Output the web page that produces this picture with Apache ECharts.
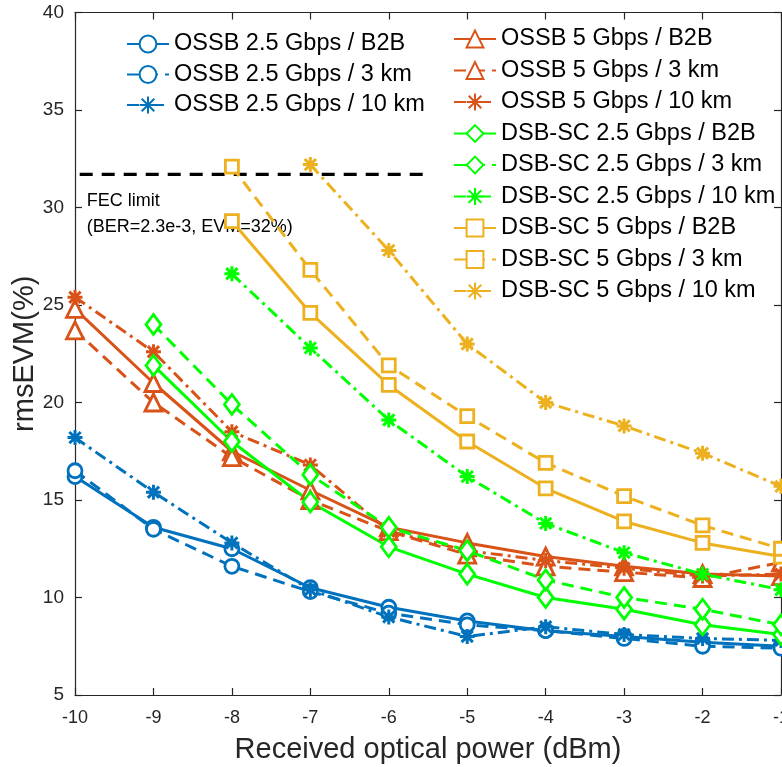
<!DOCTYPE html>
<html>
<head>
<meta charset="utf-8">
<script src="https://cdn.jsdelivr.net/npm/echarts@6/dist/echarts.min.js"></script>
<style>
html,body{margin:0;padding:0;background:#fff;}
#chart{width:782px;height:767px;}
</style>
</head>
<body>
<div id="chart"></div>
<script>
// ---- data ----
var powers = [-10, -9, -8, -7, -6, -5, -4, -3, -2, -1];
var xTicks = [-10, -9, -8, -7, -6, -5, -4, -3, -2, -1];
var yTicks = [5, 10, 15, 20, 25, 30, 35, 40];

var ossb25_b2b  = [16.2, 13.6, 12.5, 10.5, 9.5, 8.8, 8.3, 8.0, 7.7, 7.5];
var ossb25_3km  = [16.5, 13.5, 11.6, 10.3, 9.2, 8.6, 8.3, 7.9, 7.5, 7.4];
var ossb25_10km = [18.2, 15.4, 12.8, 10.4, 9.0, 8.0, 8.5, 8.1, 7.9, 7.8];

var ossb5_b2b  = [24.8, 21.0, 17.5, 15.5, 13.6, 12.8, 12.1, 11.6, 11.2, 11.1];
var ossb5_3km  = [23.7, 20.0, 17.2, 15.0, 13.4, 12.2, 11.6, 11.3, 11.0, 11.8];
var ossb5_10km = [25.4, 22.6, 18.5, 16.8, 13.4, 12.4, 11.9, 11.5, 11.1, 11.2];

var dsb25_b2b  = [null, 21.9, 18.0, 14.9, 12.6, 11.2, 10.0, 9.4, 8.6, 8.1];
var dsb25_3km  = [null, 24.0, 19.9, 16.3, 13.6, 12.4, 10.9, 10.0, 9.4, 8.6];
var dsb25_10km = [null, null, 26.6, 22.8, 19.1, 16.2, 13.8, 12.3, 11.2, 10.4];

var dsb5_b2b  = [null, null, 29.3, 24.6, 20.9, 18.0, 15.6, 13.9, 12.8, 12.1];
var dsb5_3km  = [null, null, 32.1, 26.8, 21.9, 19.3, 16.9, 15.2, 13.7, 12.5];
var dsb5_10km = [null, null, null, 32.2, 27.8, 23.0, 20.0, 18.8, 17.4, 15.7];

var fecX = [-9.94, -5.5];
var fecY = 31.7;
var fecLabel1 = 'FEC limit';
var fecLabel2 = '(BER=2.3e-3, EVM=32%)';

var namesLeft = ['OSSB 2.5 Gbps / B2B', 'OSSB 2.5 Gbps / 3 km', 'OSSB 2.5 Gbps / 10 km'];
var namesRight = ['OSSB 5 Gbps / B2B', 'OSSB 5 Gbps / 3 km', 'OSSB 5 Gbps / 10 km',
  'DSB-SC 2.5 Gbps / B2B', 'DSB-SC 2.5 Gbps / 3 km', 'DSB-SC 2.5 Gbps / 10 km',
  'DSB-SC 5 Gbps / B2B', 'DSB-SC 5 Gbps / 3 km', 'DSB-SC 5 Gbps / 10 km'];

// ---- styles ----
var BLUE = '#0072BD', RED = '#D95319', GREEN = '#00FF00', YEL = '#EDB120';
var STAR = 'path://M0,-10L0,10M-10,0L10,0M-7.5,-7.5L7.5,7.5M-7.5,7.5L7.5,-7.5';
var DASH = [12, 7];
var DASHDOT = [12, 5, 3, 5];
var LW = 3;

function pairs(vals) {
  var out = [];
  for (var i = 0; i < powers.length; i++) {
    if (vals[i] !== null) out.push([powers[i], vals[i]]);
  }
  return out;
}

function mk(name, vals, color, dash, symbol, size) {
  var isStar = symbol === STAR;
  return {
    name: name,
    type: 'line',
    data: pairs(vals),
    symbol: symbol,
    symbolSize: size,
    showAllSymbol: true,
    clip: true,
    lineStyle: { color: color, width: LW, type: dash },
    itemStyle: { color: isStar ? color : '#ffffff', borderColor: color, borderWidth: isStar ? 3 : 2.8 },
    emphasis: { disabled: true },
    animation: false
  };
}

var series = [
  mk(namesLeft[0], ossb25_b2b, BLUE, 'solid', 'circle', 14),
  mk(namesLeft[1], ossb25_3km, BLUE, DASH, 'circle', 14),
  mk(namesLeft[2], ossb25_10km, BLUE, DASHDOT, STAR, 15),
  mk(namesRight[0], ossb5_b2b, RED, 'solid', 'triangle', 17),
  mk(namesRight[1], ossb5_3km, RED, DASH, 'triangle', 17),
  mk(namesRight[2], ossb5_10km, RED, DASHDOT, STAR, 15),
  mk(namesRight[3], dsb25_b2b, GREEN, 'solid', 'diamond', [15, 20]),
  mk(namesRight[4], dsb25_3km, GREEN, DASH, 'diamond', [15, 20]),
  mk(namesRight[5], dsb25_10km, GREEN, DASHDOT, STAR, 15),
  mk(namesRight[6], dsb5_b2b, YEL, 'solid', 'rect', 13),
  mk(namesRight[7], dsb5_3km, YEL, DASH, 'rect', 13),
  mk(namesRight[8], dsb5_10km, YEL, DASHDOT, STAR, 15),
  {
    name: 'FEC',
    type: 'line',
    data: [[fecX[0], fecY], [fecX[1], fecY]],
    symbol: 'none',
    lineStyle: { color: '#000', width: 3.4, type: [13, 9] },
    z: 1,
    silent: true,
    animation: false
  }
];

var AX = '#262626';
var FONT = '"Liberation Sans", Arial, Helvetica, sans-serif';

var chart = echarts.init(document.getElementById('chart'), null, { renderer: 'canvas' });
var option = {
  backgroundColor: '#ffffff',
  animation: false,
  textStyle: { fontFamily: FONT },
  grid: { left: 75, right: 1, top: 12.5, bottom: 72, containLabel: false, outerBoundsMode: 'none' },
  xAxis: [{
    type: 'value', min: xTicks[0], max: xTicks[xTicks.length - 1], interval: 1,
    position: 'bottom',
    name: 'Received optical power (dBm)', nameLocation: 'middle', nameGap: 40,
    nameMoveOverlap: false,
    nameTextStyle: { fontSize: 29, color: AX, fontFamily: FONT },
    axisLine: { show: true, onZero: false, lineStyle: { color: AX, width: 1.2 } },
    axisTick: { show: true, inside: true, length: 7, lineStyle: { color: AX, width: 1.2 } },
    axisLabel: { show: true, fontSize: 18, color: AX, margin: 14, fontFamily: FONT },
    splitLine: { show: false }
  }, {
    type: 'value', min: xTicks[0], max: xTicks[xTicks.length - 1], interval: 1,
    position: 'top',
    axisLine: { show: true, onZero: false, lineStyle: { color: AX, width: 1.2 } },
    axisTick: { show: true, inside: true, length: 7, lineStyle: { color: AX, width: 1.2 } },
    axisLabel: { show: false },
    splitLine: { show: false }
  }],
  yAxis: [{
    type: 'value', min: yTicks[0], max: yTicks[yTicks.length - 1], interval: 5,
    position: 'left',
    name: 'rmsEVM(%)', nameLocation: 'middle', nameGap: 36,
    nameMoveOverlap: false,
    nameTextStyle: { fontSize: 29, color: AX, fontFamily: FONT },
    axisLine: { show: true, onZero: false, lineStyle: { color: AX, width: 1.2 } },
    axisTick: { show: true, inside: true, length: 7, lineStyle: { color: AX, width: 1.2 } },
    axisLabel: { show: true, fontSize: 19, color: AX, margin: 11, fontFamily: FONT },
    splitLine: { show: false }
  }, {
    type: 'value', min: yTicks[0], max: yTicks[yTicks.length - 1], interval: 5,
    position: 'right',
    axisLine: { show: true, onZero: false, lineStyle: { color: AX, width: 1.2 } },
    axisTick: { show: true, inside: true, length: 7, lineStyle: { color: AX, width: 1.2 } },
    axisLabel: { show: false },
    splitLine: { show: false }
  }],
  legend: [{
    data: namesLeft, orient: 'vertical', left: 126, top: 32, padding: 0,
    itemWidth: 42, itemHeight: 21, itemGap: 6.5,
    textStyle: { fontSize: 23.5, color: '#000', fontFamily: FONT, lineHeight: 21 },
    selectedMode: false
  }, {
    data: namesRight, orient: 'vertical', left: 453, top: 27, padding: 0,
    itemWidth: 42, itemHeight: 21, itemGap: 7.5,
    textStyle: { fontSize: 23.5, color: '#000', fontFamily: FONT, lineHeight: 21 },
    selectedMode: false
  }],
  series: series
};
chart.setOption(option);

var p1 = chart.convertToPixel({ gridIndex: 0 }, [-9.85, 30.3]);
var p2 = chart.convertToPixel({ gridIndex: 0 }, [-9.85, 28.95]);
chart.setOption({
  graphic: [
    { type: 'text', left: p1[0], top: p1[1] - 10, silent: true,
      style: { text: fecLabel1, fontSize: 18, fill: '#000', fontFamily: FONT } },
    { type: 'text', left: p2[0], top: p2[1] - 10, silent: true,
      style: { text: fecLabel2, fontSize: 18, fill: '#000', fontFamily: FONT } }
  ]
});
</script>
</body>
</html>
